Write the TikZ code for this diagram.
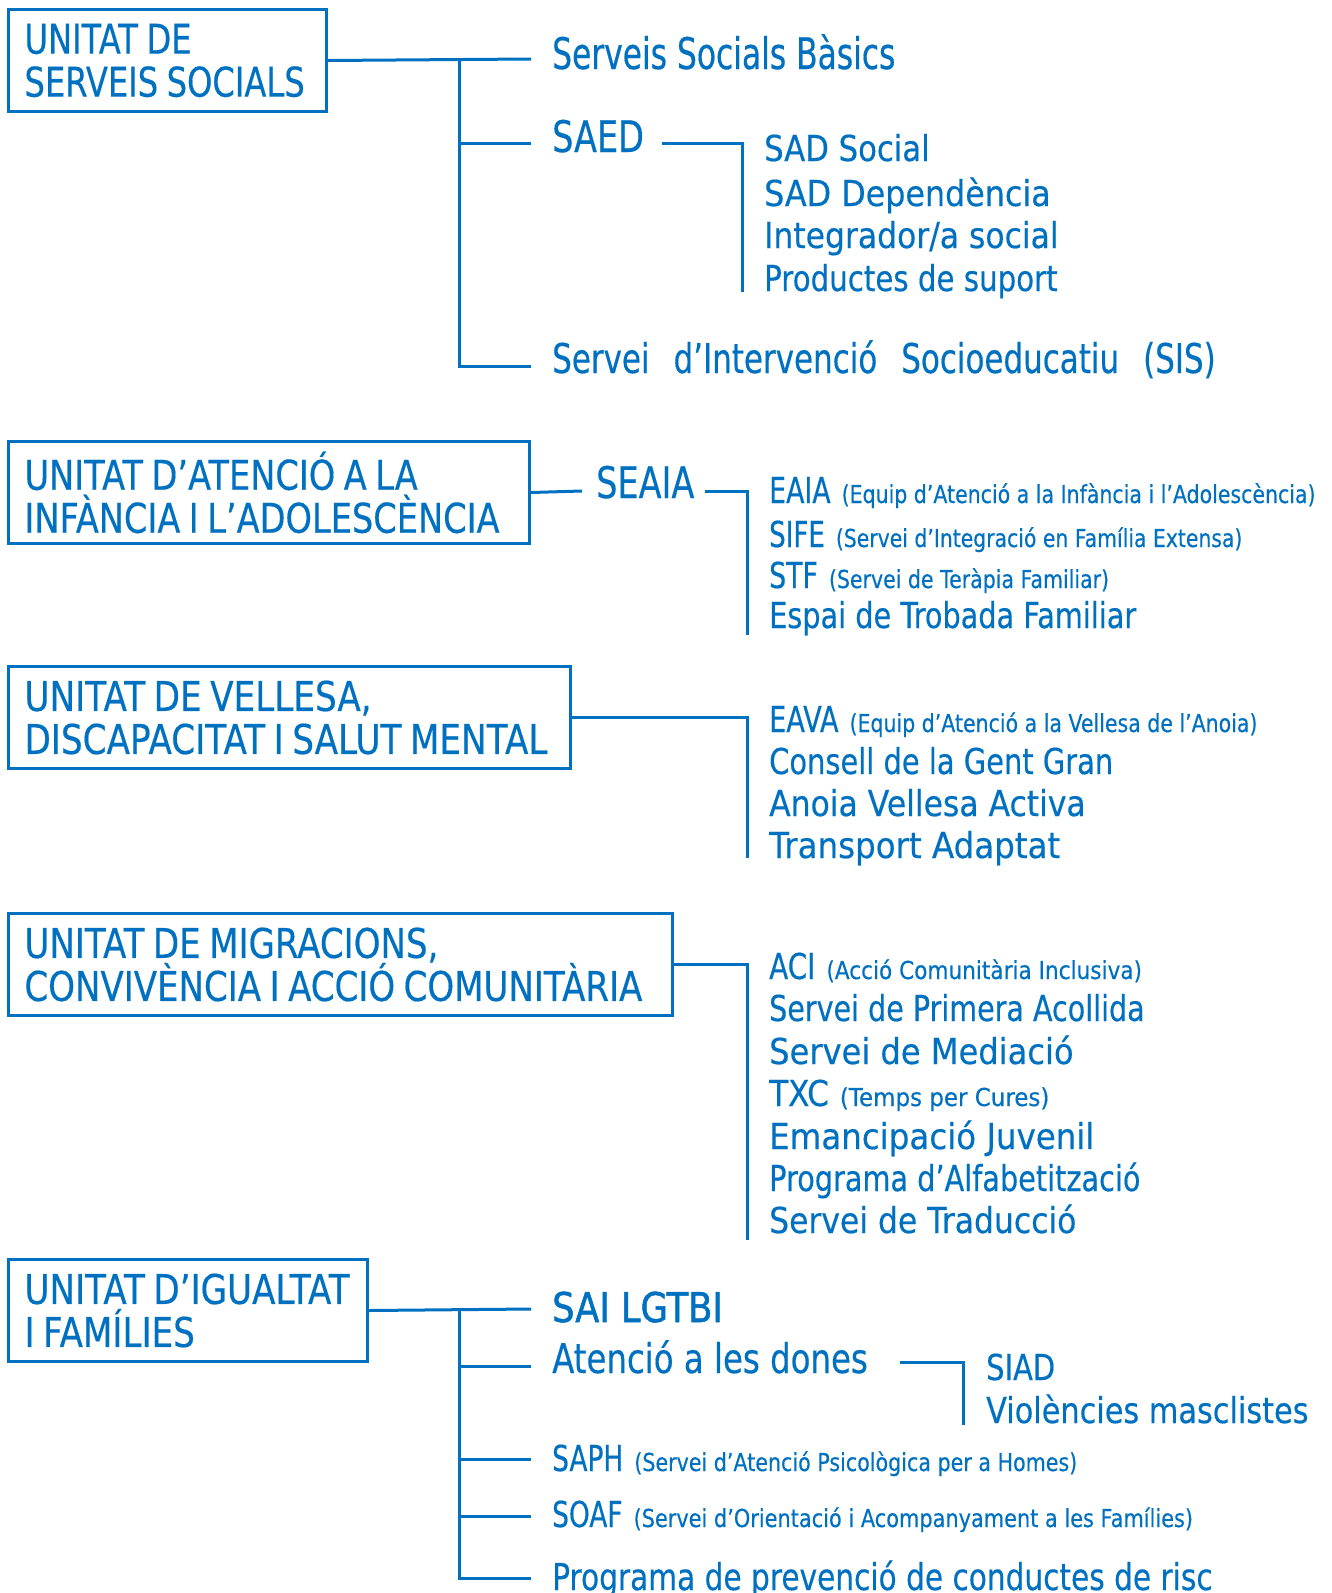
\documentclass[tikz,border=0pt]{standalone}
\usepackage{fontspec}
\setmainfont{DejaVu Sans}
\newfontfamily\dvfont{DejaVu Sans}

\definecolor{unitblue}{RGB}{0,112,192}
% size, baselineskip, horizontal stretch
\newcommand{\ufont}[3]{\dvfont\fontsize{#1}{#2}\selectfont\addfontfeatures{FakeStretch=#3,FakeBold=0.4}}
\newcommand{\pn}[2][0.83]{\hspace{11pt}{\ufont{24.7}{28}{#1}#2}}
\newcommand{\wgap}{\hspace{24pt}}
\newcommand{\tightsp}{\spaceskip=8.5pt\relax}

\tikzset{
  unitbox/.style={draw=unitblue, line width=3pt, text=unitblue, anchor=north west,
    align=left, inner xsep=16pt, minimum height=102pt,
    font=\ufont{41}{43}{#1}, execute at begin node=\tightsp},
  link/.style={draw=unitblue, line width=3pt},
  item/.style={text=unitblue, anchor=base west, inner sep=0pt, font=\ufont{35.7}{40}{#1}},
  item/.default=0.8,
  head/.style={item=#1, font=\ufont{41}{43}{#1}},
  head/.default=0.8,
  big/.style={item=#1, font=\ufont{43.5}{46}{#1}},
  big/.default=0.77
}

\begin{document}
\begin{tikzpicture}[x=1pt, y=-1pt]
    \useasboundingbox (0,0) rectangle (1331,1593);

    % unitat de serveis socials
    \node[unitbox=0.785, text width=286pt] (u1) at (7,8) {UNITAT DE\\SERVEIS SOCIALS};
    \node[big=0.72] (sbs) at (552,69) {Serveis Socials Bàsics};
    \node[big=0.77] (saed) at (552,152) {SAED};
    \node[item=0.86] (sad1) at (764,161) {SAD Social};
    \node[item=0.89] (sad2) at (764,206) {SAD Dependència};
    \node[item=0.88] (sad3) at (764,248) {Integrador/a social};
    \node[item=0.82] (sad4) at (764,291) {Productes de suport};
    \node[head=0.755] (sis) at (552,373) {Servei\wgap d’Intervenció\wgap Socioeducatiu\wgap (SIS)};

    \coordinate (t1) at (459,59);
    \coordinate (b1a) at (531,59);
    \coordinate (b1b) at (531,143);
    \coordinate (b1c) at (531,366);
    \coordinate (s1) at (662,143);
    \coordinate (s2) at (742,292);
    \draw[link] (u1.east) -- (b1a);
    \draw[link] (t1) |- (b1c);
    \draw[link] (t1 |- b1b) -- (b1b);
    \draw[link] (s1) -| (s2);

    % unitat d'atencio a la infancia
    \node[unitbox=0.82, text width=489pt] (u2) at (7,440) {UNITAT D’ATENCIÓ A LA\\INFÀNCIA I L’ADOLESCÈNCIA};
    \node[big=0.77] (seaia) at (596,498) {SEAIA};
    \node[item=0.75] (eaia) at (769,503) {EAIA\pn{(Equip d’Atenció a la Infància i l’Adolescència)}};
    \node[item=0.73] (sife) at (769,547) {SIFE\pn[0.825]{(Servei d’Integració en Família Extensa)}};
    \node[item=0.75] (stf) at (769,588) {STF\pn{(Servei de Teràpia Familiar)}};
    \node[item=0.805] (etf) at (769,628) {Espai de Trobada Familiar};

    \coordinate (b2) at (582,491);
    \coordinate (s3) at (705,491);
    \coordinate (s4) at (747,635);
    \draw[link] (u2.east) -- (b2);
    \draw[link] (s3) -| (s4);

    % unitat de vellesa
    \node[unitbox=0.835, text width=530pt] (u3) at (7,665) {UNITAT DE VELLESA,\\DISCAPACITAT I SALUT MENTAL};
    \node[item=0.76] (eava) at (769,732) {EAVA\pn{(Equip d’Atenció a la Vellesa de l’Anoia)}};
    \node[item=0.81] (cgg) at (769,774) {Consell de la Gent Gran};
    \node[item=0.88] (ava) at (769,816) {Anoia Vellesa Activa};
    \node[item=0.91] (tad) at (769,858) {Transport Adaptat};

    \coordinate (c3) at (747,858);
    \draw[link] (u3.east) -| (c3);

    % unitat de migracions
    \node[unitbox=0.83, text width=632pt] (u4) at (7,912) {UNITAT DE MIGRACIONS,\\CONVIVÈNCIA I ACCIÓ COMUNITÀRIA};
    \node[item=0.78] (aci) at (769,979) {ACI\pn[0.875]{(Acció Comunitària Inclusiva)}};
    \node[item=0.80] (spa) at (769,1021) {Servei de Primera Acollida};
    \node[item=0.90] (smd) at (769,1064) {Servei de Mediació};
    \node[item=0.87] (txc) at (769,1106) {TXC\pn[0.93]{(Temps per Cures)}};
    \node[item=0.91] (emj) at (769,1149) {Emancipació Juvenil};
    \node[item=0.805] (pal) at (769,1191) {Programa d’Alfabetització};
    \node[item=0.88] (stc) at (769,1233) {Servei de Traducció};

    \coordinate (c4) at (747,1240);
    \draw[link] (u4.east) -| (c4);

    % unitat d'igualtat
    \node[unitbox=0.833, text width=327pt] (u5) at (7,1258) {UNITAT~D’IGUALTAT\\I FAMÍLIES};
    \node[head=0.86] (sai) at (552,1322) {\addfontfeatures{FakeBold=1.2}SAI LGTBI};
    \node[head=0.79] (dones) at (552,1373) {Atenció a les dones};
    \node[item=0.81] (siad) at (986,1380) {SIAD};
    \node[item=0.85] (viol) at (986,1423) {Violències masclistes};
    \node[item=0.74] (saph) at (552,1471) {SAPH\pn[0.835]{(Servei d’Atenció Psicològica per a Homes)}};
    \node[item=0.74] (soaf) at (552,1527) {SOAF\pn[0.845]{(Servei d’Orientació i Acompanyament a les Famílies)}};
    \node[item, font=\ufont{37}{40}{0.80}] (prog) at (552,1590) {Programa de prevenció de conductes de risc};

    \coordinate (t5) at (459,1309);
    \coordinate (b5a) at (531,1309);
    \coordinate (b5b) at (531,1366);
    \coordinate (b5c) at (531,1459);
    \coordinate (b5d) at (531,1516);
    \coordinate (b5e) at (531,1578);
    \coordinate (s5) at (900,1362);
    \coordinate (s6) at (963,1425);
    \draw[link] (u5.east) -- (b5a);
    \draw[link] (t5) |- (b5e);
    \foreach \b in {b5b,b5c,b5d}
        \draw[link] (t5 |- \b) -- (\b);
    \draw[link] (s5) -| (s6);
\end{tikzpicture}
\end{document}
